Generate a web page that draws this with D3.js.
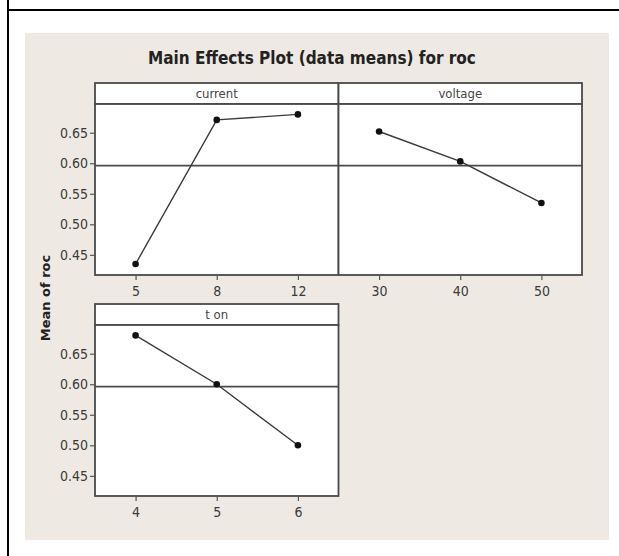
<!DOCTYPE html>
<html>
<head>
<meta charset="utf-8">
<script src="https://d3js.org/d3.v7.min.js"></script>
<style>
  body { margin: 0; background: #fff; }
  .tick text { font-family: "DejaVu Sans Condensed", sans-serif; font-size: 14px; fill: #3a3a3a; }
  .tick line { stroke: #555; stroke-width: 1.2; }
</style>
</head>
<body>
<div id="chart"></div>
<script>
// Main effects plot, three factors
var currentLevels = ["5", "8", "12"];
var currentMeans = [0.435, 0.671, 0.680];
var voltageLevels = ["30", "40", "50"];
var voltageMeans = [0.652, 0.603, 0.535];
var tonLevels = ["4", "5", "6"];
var tonMeans = [0.680, 0.600, 0.500];
var grandMean = 0.596;
var yTicks = [0.45, 0.50, 0.55, 0.60, 0.65];

(function() {
  var width = 619, height = 556;
  var panelW = 243.5, panelH = 171, headH = 21;

  var svg = d3.select("#chart")
    .append("svg")
    .attr("width", width)
    .attr("height", height);

  // frame lines and beige page
  svg.append("rect").attr("x", 25).attr("y", 33).attr("width", 584).attr("height", 507).attr("fill", "#eeeae3");
  svg.append("line").attr("x1", 8).attr("x2", 8).attr("y1", 0).attr("y2", height).attr("stroke", "#000").attr("stroke-width", 2);
  svg.append("line").attr("x1", 8).attr("x2", width).attr("y1", 10).attr("y2", 10).attr("stroke", "#000").attr("stroke-width", 2);

  svg.append("text")
    .attr("x", 312)
    .attr("y", 64)
    .attr("text-anchor", "middle")
    .style("font-family", "'DejaVu Sans Condensed', sans-serif")
    .style("font-weight", "bold")
    .style("font-size", "17px")
    .attr("fill", "#222")
    .text("Main Effects Plot (data means) for roc");

  svg.append("text")
    .attr("transform", "translate(50,298) rotate(-90)")
    .attr("text-anchor", "middle")
    .style("font-family", "'DejaVu Sans', sans-serif")
    .style("font-weight", "bold")
    .style("font-size", "13px")
    .attr("fill", "#222")
    .text("Mean of roc");

  var yScale = d3.scaleLinear()
    .domain([0.417, 0.697])
    .range([panelH, 0]);

  var panels = [
    { name: "current", levels: currentLevels, means: currentMeans, x: 95, y: 83, yAxis: true },
    { name: "voltage", levels: voltageLevels, means: voltageMeans, x: 95 + panelW, y: 83, yAxis: false },
    { name: "t on", levels: tonLevels, means: tonMeans, x: 95, y: 304, yAxis: true }
  ];

  panels.forEach(function(p) {
    var g = svg.append("g")
      .attr("transform", "translate(" + p.x + "," + p.y + ")");

    // header strip
    g.append("rect")
      .attr("width", panelW).attr("height", headH)
      .attr("fill", "#fff").attr("stroke", "#4a4a4a").attr("stroke-width", 1.8);
    g.append("text")
      .attr("x", panelW / 2).attr("y", 15)
      .attr("text-anchor", "middle")
      .style("font-family", "'DejaVu Sans Condensed', sans-serif")
      .style("font-size", "13px")
      .attr("fill", "#444")
      .text(p.name);

    var plot = g.append("g").attr("transform", "translate(0," + headH + ")");

    plot.append("rect")
      .attr("width", panelW).attr("height", panelH)
      .attr("fill", "#fff").attr("stroke", "#4a4a4a").attr("stroke-width", 1.8);

    var xScale = d3.scalePoint()
      .domain(p.levels)
      .range([0, panelW])
      .padding(0.5);

    var xAxis = d3.axisBottom(xScale).tickSize(5).tickPadding(6);
    plot.append("g")
      .attr("transform", "translate(0," + panelH + ")")
      .call(xAxis)
      .call(function(a) { a.select(".domain").remove(); });

    if (p.yAxis) {
      var yAxis = d3.axisLeft(yScale).tickValues(yTicks).tickFormat(d3.format(".2f")).tickSize(5).tickPadding(2);
      plot.append("g")
        .call(yAxis)
        .call(function(a) { a.select(".domain").remove(); });
    }

    // grand mean reference
    plot.append("line")
      .attr("x1", 0).attr("x2", panelW)
      .attr("y1", yScale(grandMean)).attr("y2", yScale(grandMean))
      .attr("stroke", "#4a4a4a").attr("stroke-width", 1.8);

    var pts = p.levels.map(function(l, i) { return { level: l, mean: p.means[i] }; });

    var line = d3.line()
      .x(function(d) { return xScale(d.level); })
      .y(function(d) { return yScale(d.mean); });

    plot.append("path")
      .datum(pts)
      .attr("d", line)
      .attr("fill", "none")
      .attr("stroke", "#3a3a3a")
      .attr("stroke-width", 1.4);

    plot.selectAll(".dot")
      .data(pts)
      .enter().append("circle")
      .attr("class", "dot")
      .attr("cx", function(d) { return xScale(d.level); })
      .attr("cy", function(d) { return yScale(d.mean); })
      .attr("r", 3.3)
      .attr("fill", "#111");
  });
})();
</script>
</body>
</html>
